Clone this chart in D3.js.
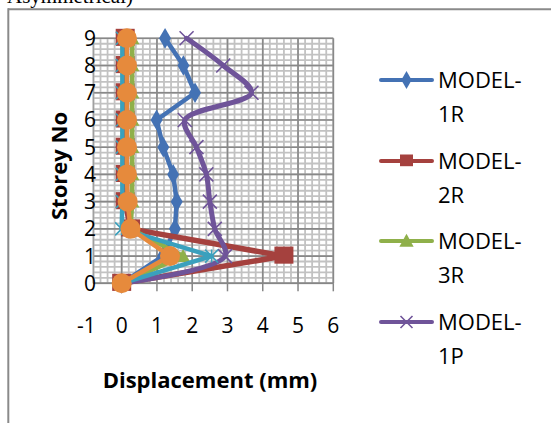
<!DOCTYPE html>
<html><head><meta charset="utf-8">
<script src="https://cdn.jsdelivr.net/npm/d3@7/dist/d3.min.js"></script>
<style>html,body{margin:0;padding:0;background:#fff;overflow:hidden}</style>
</head><body>
<svg id="c" width="551" height="423"></svg>
<script>
const storeys = [0,1,2,3,4,5,6,7,8,9];
const xTicks = [-1,0,1,2,3,4,5,6];
const model1R = [0, 1.17, 1.51, 1.56, 1.46, 1.18, 0.99, 2.08, 1.75, 1.23];
const model2R = [0, 4.6, 0.25, 0.1, 0.1, 0.1, 0.1, 0.1, 0.1, 0.1];
const model3R = [0, 1.74, 0.25, 0.3, 0.3, 0.3, 0.3, 0.3, 0.3, 0.3];
const model1P = [0, 2.93, 2.64, 2.5, 2.4, 2.12, 1.79, 3.68, 2.88, 1.84];
const model5 = [0, 2.55, 0.0, 0.02, 0.02, 0.02, 0.02, 0.02, 0.02, 0.02];
const model6 = [0, 1.37, 0.25, 0.17, 0.15, 0.15, 0.15, 0.15, 0.15, 0.15];
const seriesNames = ["MODEL-1R","MODEL-2R","MODEL-3R","MODEL-1P","MODEL-5","MODEL-6"];

const colors = ["#4472b4","#a5413e","#8fb04a","#6f5499","#3aa0bd","#e68a3c"];
const symbols = ["diamond","square","triangle","x","star","circle"];
const allVals = [model1R, model2R, model3R, model1P, model5, model6];

const svg = d3.select("#c");
const x = d3.scaleLinear().domain([-1, 6]).range([86.4, 333.3]);
const y = d3.scaleLinear().domain([0, 9]).range([283.3, 38.3]);

// top cut-off caption (cut off in the reference too) and frame
svg.append("text").attr("x", 7).attr("y", 3).attr("font-family","Liberation Serif")
  .attr("font-size", 21).attr("fill","#000").text("Asymmetrical)");
svg.append("line").attr("x1",8).attr("x2",551).attr("y1",9.2).attr("y2",9.2).attr("stroke","#8a8a8a").attr("stroke-width",2);
svg.append("line").attr("x1",8.3).attr("x2",8.3).attr("y1",8.2).attr("y2",423).attr("stroke","#8a8a8a").attr("stroke-width",2);

// grid
const g = svg.append("g");
const x0 = -0.8, x1 = 6;
const minorX = d3.range(-0.8, 6.0001, 0.2).map(v => +v.toFixed(2));
const minorY = d3.range(0, 9.0001, 0.2).map(v => +v.toFixed(2));
g.selectAll(".mx").data(minorX).join("line")
  .attr("x1", d => x(d)).attr("x2", d => x(d)).attr("y1", y(0)).attr("y2", y(9))
  .attr("stroke", "#c2c2c2").attr("stroke-width", 1.8);
g.selectAll(".my").data(minorY).join("line")
  .attr("x1", x(x0)).attr("x2", x(x1)).attr("y1", d => y(d)).attr("y2", d => y(d))
  .attr("stroke", "#c2c2c2").attr("stroke-width", 1.8);
g.selectAll(".Mx").data([0,1,2,3,4,5,6]).join("line")
  .attr("x1", d => x(d)).attr("x2", d => x(d)).attr("y1", y(0)).attr("y2", y(9))
  .attr("stroke", "#888888").attr("stroke-width", 1.6);
g.selectAll(".My").data(storeys).join("line")
  .attr("x1", x(x0)).attr("x2", x(x1)).attr("y1", d => y(d)).attr("y2", d => y(d))
  .attr("stroke", "#888888").attr("stroke-width", 1.6);
g.append("line").attr("x1", x(x0)).attr("x2", x(x0)).attr("y1", y(0)).attr("y2", y(9))
  .attr("stroke", "#a0a0a0").attr("stroke-width", 1.5);

// x axis ticks
svg.append("g").selectAll("line").data([0,1,2,3,4,5,6]).join("line")
  .attr("x1", d => x(d)).attr("x2", d => x(d)).attr("y1", y(0)).attr("y2", y(0) + 8)
  .attr("stroke", "#868686").attr("stroke-width", 1.5);
svg.append("line").attr("x1", x(x0)).attr("x2", x(x1)).attr("y1", y(0)).attr("y2", y(0))
  .attr("stroke", "#868686").attr("stroke-width", 1.5);

// tick labels
svg.append("g").selectAll("text").data(xTicks).join("text")
  .attr("x", d => x(d)).attr("y", 333).attr("text-anchor","middle")
  .attr("font-family","Open Sans").attr("font-size", 21).attr("fill","#000").text(d => d);
svg.append("g").selectAll("text").data(storeys).join("text")
  .attr("x", 96).attr("y", d => y(d) + 7.5).attr("text-anchor","end")
  .attr("font-family","Open Sans").attr("font-size", 21).attr("fill","#000").text(d => d);

// axis titles
svg.append("text").attr("x", 210).attr("y", 388).attr("text-anchor","middle")
  .attr("font-family","Open Sans").attr("font-weight","bold").attr("font-size", 22).text("Displacement (mm)");
svg.append("text").attr("transform","translate(67,166) rotate(-90)").attr("text-anchor","middle")
  .attr("font-family","Open Sans").attr("font-weight","bold").attr("font-size", 22).text("Storey No");

// marker drawer
function drawMarker(sel, type, color, cx, cy, s) {
  const gg = sel.append("g").attr("transform", `translate(${cx},${cy})`);
  if (type === "diamond") {
    gg.append("path").attr("d", d3.symbol(d3.symbolDiamond, s*s*0.55)()).attr("fill", color);
  } else if (type === "square") {
    gg.append("rect").attr("x",-s/2).attr("y",-s/2).attr("width",s).attr("height",s*0.9).attr("fill",color);
  } else if (type === "triangle") {
    gg.append("path").attr("d", `M0,${-s*0.55}L${s*0.55},${s*0.45}L${-s*0.55},${s*0.45}Z`).attr("fill", color);
  } else if (type === "x") {
    const h = s/2;
    gg.append("path").attr("d", `M${-h},${-h}L${h},${h}M${-h},${h}L${h},${-h}`).attr("stroke", color).attr("stroke-width", 1.6).attr("fill","none");
  } else if (type === "star") {
    const h = s/2;
    gg.append("path").attr("d", `M${-h},${-h}L${h},${h}M${-h},${h}L${h},${-h}M0,${-h}L0,${h}`).attr("stroke", color).attr("stroke-width", 1.6).attr("fill","none");
  } else if (type === "circle") {
    gg.append("circle").attr("r", s/2).attr("fill", color);
  }
}

const markerSize = [15, 19, 13, 14, 13, 20];
const lineW = [4.5, 5.5, 4.5, 5, 4.5, 4.5];
const plot = svg.append("g");
allVals.forEach((vals, i) => {
  const pts = vals.map((v, k) => [x(v), y(storeys[k])]);
  const line = d3.line().curve(i === 3 ? d3.curveCatmullRom.alpha(0.5) : d3.curveLinear);
  plot.append("path").attr("d", line(pts)).attr("fill","none").attr("stroke", colors[i])
    .attr("stroke-width", lineW[i]).attr("stroke-linejoin","round").attr("stroke-linecap","round");
  pts.forEach(p => drawMarker(plot, symbols[i], colors[i], p[0], p[1], markerSize[i]));
});

// legend
const lg = svg.append("g");
const legendY = [80, 161, 241, 322];
[0,1,2,3].forEach(i => {
  const ly = legendY[i];
  lg.append("line").attr("x1", 381).attr("x2", 432).attr("y1", ly).attr("y2", ly)
    .attr("stroke", colors[i]).attr("stroke-width", 4).attr("stroke-linecap","round");
  drawMarker(lg, symbols[i], colors[i], 406.5, ly, i === 3 ? 12 : 13);
  const parts = seriesNames[i].split("-");
  lg.append("text").attr("x", 438).attr("y", ly + 8).attr("font-family","Open Sans").attr("font-size", 22).text(parts[0] + "-");
  lg.append("text").attr("x", 438).attr("y", ly + 42).attr("font-family","Open Sans").attr("font-size", 22).text(parts[1]);
});
</script>
</body></html>
